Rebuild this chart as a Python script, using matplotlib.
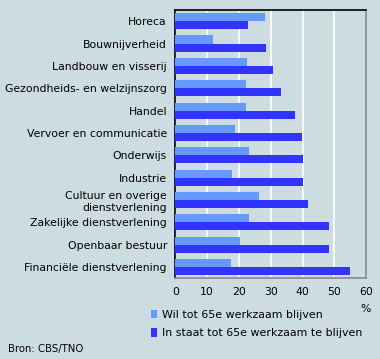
import numpy as np
import matplotlib.pyplot as plt

categories = ['Horeca', 'Bouwnijverheid', 'Landbouw en visserij',
              'Gezondheids- en welzijnszorg', 'Handel', 'Vervoer en communicatie',
              'Onderwijs', 'Industrie', 'Cultuur en overige\ndienstverlening',
              'Zakelijke dienstverlening', 'Openbaar bestuur',
              'Financiële dienstverlening']
wil = [28.2, 11.9, 22.5, 22.2, 22.2, 18.8, 23.2, 17.8, 26.3, 23.2, 20.3, 17.5]
in_staat = [22.9, 28.5, 30.7, 33.2, 37.6, 39.8, 40.1, 40.1, 41.7, 48.3, 48.3, 54.9]
xticks = [0, 10, 20, 30, 40, 50, 60]

bg = '#cddce1'
light = '#6699ff'
dark = '#3333ff'

fig = plt.figure(figsize=(3.8, 3.59), dpi=100, facecolor=bg)
ax = fig.add_axes([175.3 / 380, 1 - 278.3 / 359, 191 / 380, 268.3 / 359])
ax.set_facecolor(bg)

y = np.arange(len(categories))
h = 0.36
ax.barh(y - h / 2, wil, height=h, color=light, zorder=3, label='Wil tot 65e werkzaam blijven')
ax.barh(y + h / 2, in_staat, height=h, color=dark, zorder=3, label='In staat tot 65e werkzaam te blijven')

ax.set_xlim(0, 60)
ax.set_ylim(len(categories) - 0.5, -0.5)
ax.set_xticks(xticks)
ax.set_yticks(y)
ax.set_yticklabels(categories, fontsize=7.8, color='black', linespacing=1.25)
ax.tick_params(axis='both', length=0, pad=6, labelsize=7.8)
ax.xaxis.grid(True, color='white', linewidth=1.2, zorder=1)

ax.spines['left'].set_color('black')
ax.spines['top'].set_color('black')
ax.spines['right'].set_color('#888888')
ax.spines['bottom'].set_color('#888888')
for s in ax.spines.values():
    s.set_linewidth(1.2)

fig.text(366 / 380, 1 - 309 / 359, '%', fontsize=7.8, ha='center', va='center')

leg = fig.legend(loc='upper left', bbox_to_anchor=(151 / 380, 1 - 310 / 359),
                 frameon=False, fontsize=7.9, handlelength=0.55, handleheight=0.8,
                 handletextpad=0.45, labelspacing=0.75, borderaxespad=0,
                 borderpad=0)

fig.text(8 / 380, 1 - 349 / 359, 'Bron: CBS/TNO', fontsize=7.3, ha='left', va='center')

fig.savefig('out.png', dpi=100, facecolor=bg)
